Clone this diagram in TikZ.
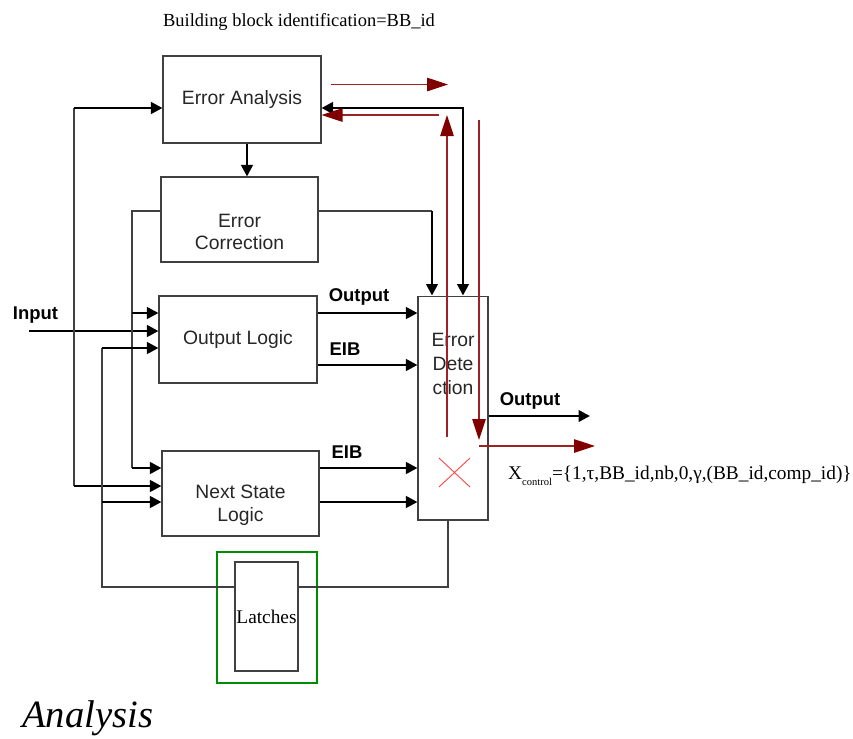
\documentclass[tikz,border=0pt]{standalone}
\usepackage{fontspec}
\setmainfont{Liberation Serif}
\setsansfont{Liberation Sans}
\usetikzlibrary{shapes,arrows,arrows.meta,positioning,calc}
\definecolor{ctrlline}{RGB}{155,35,35}
\definecolor{ctrlhead}{RGB}{128,0,0}

\begin{document}
\begin{tikzpicture}[x=0.02cm,y=-0.02cm,
    >={Triangle[length=0.23cm,width=0.23cm]},
    box/.style={draw=black!75,line width=0.6pt,minimum width=3.16cm,minimum height=1.74cm,
        font=\sffamily\fontsize{11}{13}\selectfont,text=black!85,align=center,inner sep=0pt},
    boxtext/.style={font=\sffamily\fontsize{11}{13}\selectfont,text=black!85,align=center,inner sep=0pt},
    wire/.style={draw=black!75,line width=0.7pt},
    arr/.style={black,line width=1.5pt,->},
    redarr/.style={draw=ctrlline,line width=0.65pt,-{Triangle[length=0.42cm,width=0.27cm,color=ctrlhead]}},
    sig/.style={font=\sffamily\bfseries\fontsize{10.5}{12}\selectfont}]
    \useasboundingbox (0,0) rectangle (853,738);

    % Blocks
    \node[font=\fontsize{10.5}{12}\selectfont] (title) at (299,22) {Building block identification=BB\_id};
    \node[box] (ea) at (242,99.5) {Error Analysis};
    \node[box,minimum width=3.14cm,minimum height=1.70cm] (ec) at (239.5,219.5) {};
    \node[boxtext] (ectext) at (239.5,232) {Error\\Correction};
    \node[box] (ol) at (238,339.5) {Output Logic};
    \node[box,minimum width=3.14cm,minimum height=1.70cm] (nsl) at (240.5,493.5) {};
    \node[boxtext] (nsltext) at (240.5,505.5) {Next State\\Logic};
    \node[box,minimum width=1.40cm,minimum height=4.48cm] (ed) at (453,408) {};
    \node[boxtext,font=\sffamily\fontsize{11}{13.6}\selectfont] (edtext) at (453,364) {Error\\Dete\\ction};

    % Latches
    \node[draw=green!55!black,line width=0.7pt,minimum width=2cm,minimum height=2.62cm] (latg) at (267,617.5) {};
    \node[draw=black!75,line width=0.7pt,minimum width=1.26cm,minimum height=2.18cm,
        font=\fontsize{11}{13}\selectfont,inner sep=0pt] (lat) at (266.5,616.5) {Latches};

    % Labels
    \node[sig] (lin) at (35.5,315) {Input};
    \node[sig] (lout) at (359,297) {Output};
    \node[sig] (leib) at (345,349) {EIB};
    \node[sig] (leibb) at (347,452) {EIB};
    \node[sig] (ledout) at (530,401) {Output};
    \node[anchor=west,font=\fontsize{11}{13}\selectfont] (xc) at (502,476)
        {X\raisebox{-0.7ex}{\fontsize{6}{7}\selectfont control}=\{1,τ,BB\_id,nb,0,γ,(BB\_id,comp\_id)\}};
    \node[anchor=west,font=\itshape\fontsize{22}{26}\selectfont] (cap) at (16,718) {Analysis};

    % Input and left feedback
    \coordinate (inp) at (29,331);
    \draw[arr] (inp) -- (inp -| ol.west);
    \coordinate (la) at (74,108);
    \coordinate (lb) at (74,486);
    \draw[wire] (la) -- (lb);
    \draw[arr] (la) -- (la -| ea.west);
    \draw[arr] (lb) -- (lb -| nsl.west);

    % Correction feedback
    \coordinate (ca) at (132,211);
    \coordinate (cb) at (132,468);
    \coordinate (cc) at (132,313);
    \draw[wire] (ec.west |- ca) -- (ca) -- (cb);
    \draw[arr] (cc) -- (cc -| ol.west);
    \draw[arr] (cb) -- (cb -| nsl.west);

    % Latch loop
    \coordinate (fa) at (102,348);
    \coordinate (fb) at (102,502);
    \coordinate (fc) at (102,587);
    \coordinate (fd) at (448,587);
    \draw[wire] (fa) -- (fc) -- (fc -| lat.west);
    \draw[arr] (fa) -- (fa -| ol.west);
    \draw[arr] (fb) -- (fb -| nsl.west);
    \draw[wire] (fd |- ed.south) -- (fd) -- (fd -| lat.east);

    % Analysis and correction links
    \draw[arr] ([xshift=0.1cm]ea.south) -- ([xshift=0.1cm]ea.south |- ec.north);
    \coordinate (ce) at (432,211);
    \draw[wire] (ec.east |- ce) -- (ce);
    \draw[arr] (ce) -- (ce |- ed.north);
    \coordinate (er) at (463,108);
    \draw[arr,<->] (er -| ea.east) -- (er) -- (er |- ed.north);

    % Signals into / out of detection
    \draw[arr] ([yshift=0.53cm]ol.east) -- ([yshift=0.53cm]ol.east -| ed.west);
    \draw[arr] ([yshift=-0.51cm]ol.east) -- ([yshift=-0.51cm]ol.east -| ed.west);
    \draw[arr] ([yshift=0.51cm]nsl.east) -- ([yshift=0.51cm]nsl.east -| ed.west);
    \draw[arr] ([yshift=-0.17cm]nsl.east) -- ([yshift=-0.17cm]nsl.east -| ed.west);
    \coordinate (eo) at (590,416);
    \draw[arr] (eo -| ed.east) -- (eo);

    % Control flow (red)
    \coordinate (ra) at (331,84.5);
    \coordinate (rb) at (448,84.5);
    \coordinate (rc) at (439,115);
    \coordinate (rd) at (447,437);
    \coordinate (re) at (479,120);
    \coordinate (rf) at (479,440);
    \coordinate (rg) at (595,446);
    \draw[redarr] (ra) -- (rb);
    \draw[redarr] (rc) -- (rc -| ea.east);
    \draw[redarr] (rd) -- (rd |- rc);
    \draw[redarr] (re) -- (rf);
    \draw[redarr] (rg -| re) -- (rg);
    \draw[red!75,line width=0.5pt] (439,458) -- (470,487) (439,487) -- (470,458);
\end{tikzpicture}
\end{document}
